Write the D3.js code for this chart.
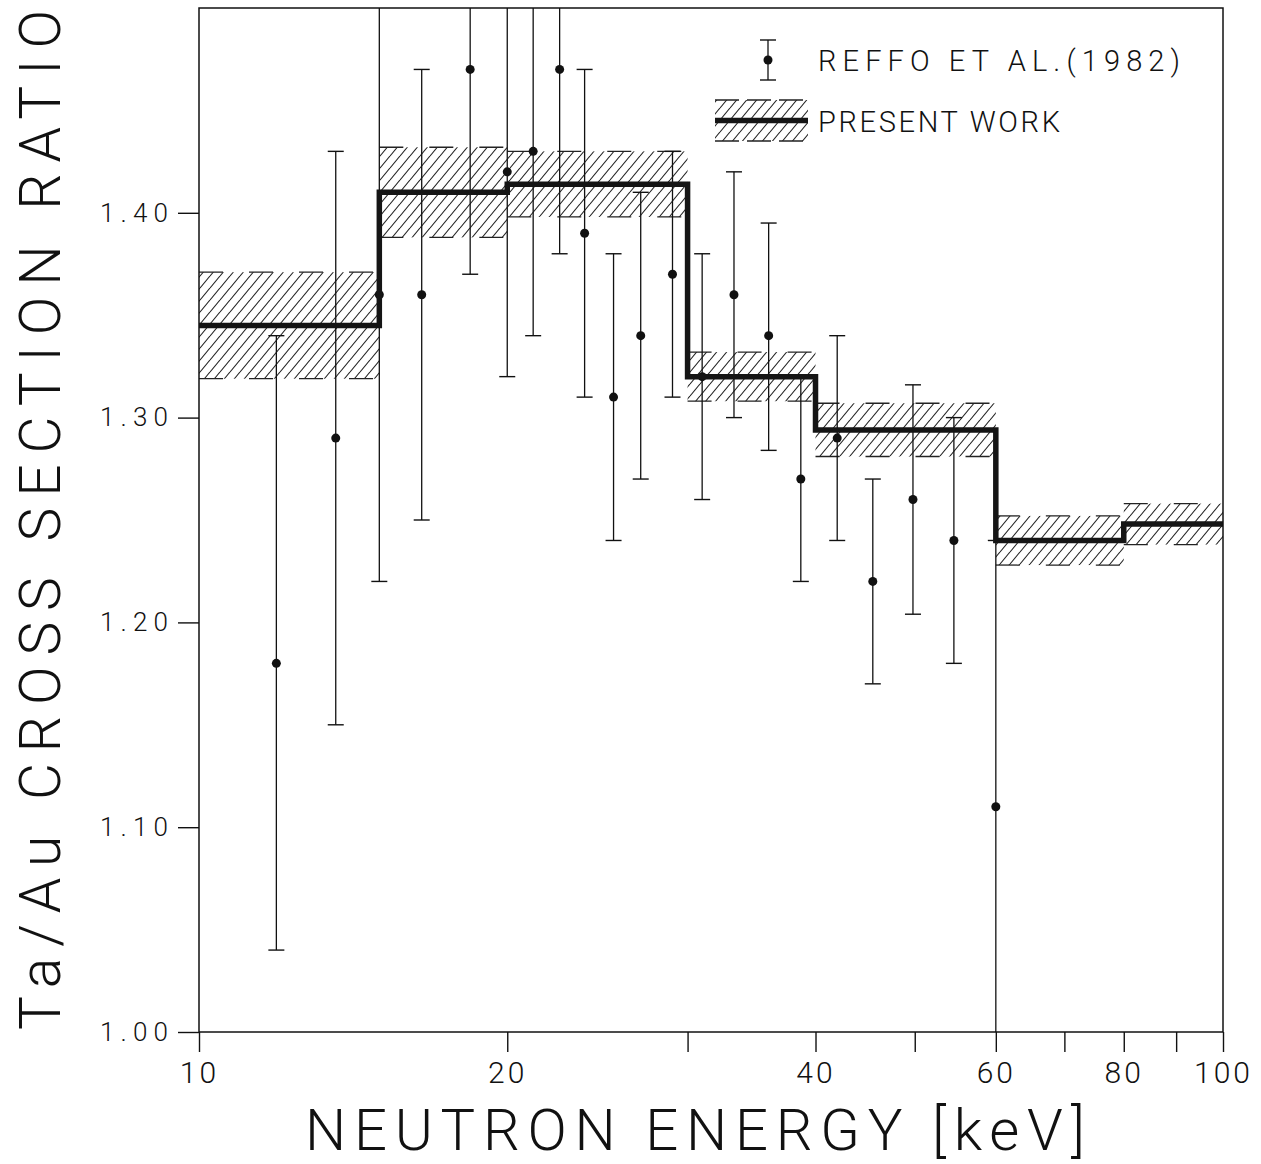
<!DOCTYPE html>
<html>
<head>
<meta charset="utf-8">
<script src="https://cdn.jsdelivr.net/npm/d3@7"></script>
<style>
  html, body { margin: 0; padding: 0; background: #fff; }
  svg { display: block; }
  text { font-family: Roboto, Inter, "Open Sans", sans-serif; font-weight: 300; fill: #111; }
</style>
</head>
<body>
<svg id="chart" width="1261" height="1164"></svg>
<script>
// ---- Data ----
// Reffo et al. (1982) points: energy [keV], ratio, lower and upper error-bar bounds
const reffoEnergy = [11.9, 13.6, 15.0, 16.5, 18.4, 20.0, 21.2, 22.5, 23.8, 25.4, 27.0, 29.0, 31.0, 33.3, 36.0, 38.7, 42.0, 45.5, 49.8, 54.6, 60.0];
const reffoRatio  = [1.18, 1.29, 1.36, 1.36, 1.47, 1.42, 1.43, 1.47, 1.39, 1.31, 1.34, 1.37, 1.32, 1.36, 1.34, 1.27, 1.29, 1.22, 1.26, 1.24, 1.11];
const reffoLower  = [1.04, 1.15, 1.22, 1.25, 1.37, 1.32, 1.34, 1.38, 1.31, 1.24, 1.27, 1.31, 1.26, 1.30, 1.284, 1.22, 1.24, 1.17, 1.204, 1.18, 0.98];
const reffoUpper  = [1.34, 1.43, 1.50, 1.47, 1.57, 1.52, 1.52, 1.56, 1.47, 1.38, 1.41, 1.43, 1.38, 1.42, 1.395, 1.32, 1.34, 1.27, 1.316, 1.30, 1.24];

// Present work: histogram bins
const binEdges  = [10, 15, 20, 30, 40, 60, 80, 100];
const binValues = [1.345, 1.410, 1.414, 1.320, 1.294, 1.240, 1.248];
const binErrors = [0.026, 0.022, 0.016, 0.012, 0.013, 0.012, 0.010];

// Axes
const xTickValues = [10, 20, 30, 40, 50, 60, 70, 80, 90, 100];
const xTickLabels = [10, 20, 40, 60, 80, 100];
const yTickValues = [1.00, 1.10, 1.20, 1.30, 1.40];
const xDomain = [10, 100];
const yDomain = [1.00, 1.50];

const xTitle = "NEUTRON ENERGY [keV]";
const yTitle = "Ta/Au CROSS SECTION RATIO";
const legendLabels = ["REFFO ET AL.(1982)", "PRESENT WORK"];

// ---- Drawing ----
const svg = d3.select("#chart");
const L = 199, R = 1223, T = 8, B = 1032;
const x = d3.scaleLog().domain(xDomain).range([L, R]);
const y = d3.scaleLinear().domain(yDomain).range([B, T]);
const ink = "#111";

svg.append("rect").attr("width", 1261).attr("height", 1164).attr("fill", "#fff");

const defs = svg.append("defs");
const pat = defs.append("pattern")
  .attr("id", "hatch").attr("patternUnits", "userSpaceOnUse")
  .attr("width", 10).attr("height", 12);
[[-10, 12, 0, 0], [0, 12, 10, 0], [10, 12, 20, 0]].forEach(s => {
  pat.append("line").attr("x1", s[0]).attr("y1", s[1]).attr("x2", s[2]).attr("y2", s[3])
    .attr("stroke", "#222").attr("stroke-width", 1.1);
});
defs.append("clipPath").attr("id", "plotclip")
  .append("rect").attr("x", L).attr("y", T).attr("width", R - L).attr("height", B - T);

// Hatched uncertainty bands
const bins = binValues.map((v, i) => ({ x0: binEdges[i], x1: binEdges[i + 1], v, e: binErrors[i] }));
const bandG = svg.append("g");
bandG.selectAll("rect.band").data(bins).join("rect")
  .attr("x", d => x(d.x0)).attr("width", d => x(d.x1) - x(d.x0))
  .attr("y", d => y(d.v + d.e)).attr("height", d => y(d.v - d.e) - y(d.v + d.e))
  .attr("fill", "url(#hatch)");
["hi", "lo"].forEach(k => {
  bandG.selectAll("line.edge" + k).data(bins).join("line")
    .attr("x1", d => x(d.x0)).attr("x2", d => x(d.x1))
    .attr("y1", d => y(k === "hi" ? d.v + d.e : d.v - d.e))
    .attr("y2", d => y(k === "hi" ? d.v + d.e : d.v - d.e))
    .attr("stroke", "#222").attr("stroke-width", 1.3)
    .attr("stroke-dasharray", "24,26");
});

// Reffo points with error bars
const pts = reffoEnergy.map((e, i) => ({ e, r: reffoRatio[i], lo: reffoLower[i], hi: reffoUpper[i] }));
const ptG = svg.append("g").attr("clip-path", "url(#plotclip)");
ptG.selectAll("line.err").data(pts).join("line")
  .attr("x1", d => x(d.e)).attr("x2", d => x(d.e))
  .attr("y1", d => y(Math.max(d.lo, yDomain[0]))).attr("y2", d => y(Math.min(d.hi, yDomain[1])))
  .attr("stroke", ink).attr("stroke-width", 1.3);
const caps = [];
pts.forEach(d => {
  if (d.lo >= yDomain[0]) caps.push({ e: d.e, v: d.lo });
  if (d.hi <= yDomain[1] - 0.001) caps.push({ e: d.e, v: d.hi });
});
ptG.selectAll("line.cap").data(caps).join("line")
  .attr("x1", d => x(d.e) - 8).attr("x2", d => x(d.e) + 8)
  .attr("y1", d => y(d.v)).attr("y2", d => y(d.v))
  .attr("stroke", ink).attr("stroke-width", 1.4);
ptG.selectAll("circle").data(pts).join("circle")
  .attr("cx", d => x(d.e)).attr("cy", d => y(d.r)).attr("r", 4.5).attr("fill", ink);

// Histogram line
const stepData = bins.map(d => [d.x0, d.v]).concat([[binEdges[binEdges.length - 1], binValues[binValues.length - 1]]]);
svg.append("path").datum(stepData)
  .attr("d", d3.line().x(d => x(d[0])).y(d => y(d[1])).curve(d3.curveStepAfter))
  .attr("fill", "none").attr("stroke", "#151515").attr("stroke-width", 5.5);

// Frame
svg.append("rect").attr("x", L).attr("y", T).attr("width", R - L).attr("height", B - T)
  .attr("fill", "none").attr("stroke", ink).attr("stroke-width", 1.5);

// Axes
const xAxis = d3.axisBottom(x).tickValues(xTickValues).tickSize(20).tickPadding(10)
  .tickFormat(d => xTickLabels.includes(d) ? String(d) : "");
const gx = svg.append("g").attr("transform", `translate(0,${B})`).call(xAxis);
gx.select(".domain").remove();
gx.selectAll(".tick line").attr("stroke", ink).attr("stroke-width", 1.4);
gx.selectAll(".tick text").attr("font-size", 30).attr("fill", ink)
  .attr("font-family", "Roboto, Inter, sans-serif").attr("font-weight", 300)
  .style("letter-spacing", "3px");

const yAxis = d3.axisLeft(y).tickValues(yTickValues).tickSize(21).tickPadding(10)
  .tickFormat(d3.format(".2f"));
const gy = svg.append("g").attr("transform", `translate(${L},0)`).call(yAxis);
gy.select(".domain").remove();
gy.selectAll(".tick line").attr("stroke", ink).attr("stroke-width", 1.4);
gy.selectAll(".tick text").attr("font-size", 26).attr("fill", ink)
  .attr("font-family", "Roboto, Inter, sans-serif").attr("font-weight", 300)
  .attr("textLength", 68).attr("lengthAdjust", "spacing");

// Titles
svg.append("text").attr("x", 305).attr("y", 1150).attr("font-size", 58)
  .attr("textLength", 780).attr("lengthAdjust", "spacing").text(xTitle);
svg.append("text").attr("transform", "translate(60,1030) rotate(-90)").attr("font-size", 57)
  .attr("textLength", 1020).attr("lengthAdjust", "spacing").text(yTitle);

// Legend
const lg = svg.append("g");
lg.append("line").attr("x1", 768).attr("x2", 768).attr("y1", 40).attr("y2", 80).attr("stroke", ink).attr("stroke-width", 1.3);
[40, 80].forEach(v => lg.append("line").attr("x1", 760).attr("x2", 776).attr("y1", v).attr("y2", v).attr("stroke", ink).attr("stroke-width", 1.4));
lg.append("circle").attr("cx", 768).attr("cy", 60).attr("r", 4.5).attr("fill", ink);
lg.append("text").attr("x", 818).attr("y", 71).attr("font-size", 29)
  .attr("textLength", 362).attr("lengthAdjust", "spacing").text(legendLabels[0]);

lg.append("rect").attr("x", 715).attr("y", 100).attr("width", 93).attr("height", 41).attr("fill", "url(#hatch)");
[100, 141].forEach(v => lg.append("line").attr("x1", 715).attr("x2", 808).attr("y1", v).attr("y2", v)
  .attr("stroke", "#222").attr("stroke-width", 1.3).attr("stroke-dasharray", "24,8"));
lg.append("line").attr("x1", 715).attr("x2", 808).attr("y1", 120.5).attr("y2", 120.5).attr("stroke", "#151515").attr("stroke-width", 5.5);
lg.append("text").attr("x", 818).attr("y", 132).attr("font-size", 29)
  .attr("textLength", 242).attr("lengthAdjust", "spacing").text(legendLabels[1]);
</script>
</body>
</html>
